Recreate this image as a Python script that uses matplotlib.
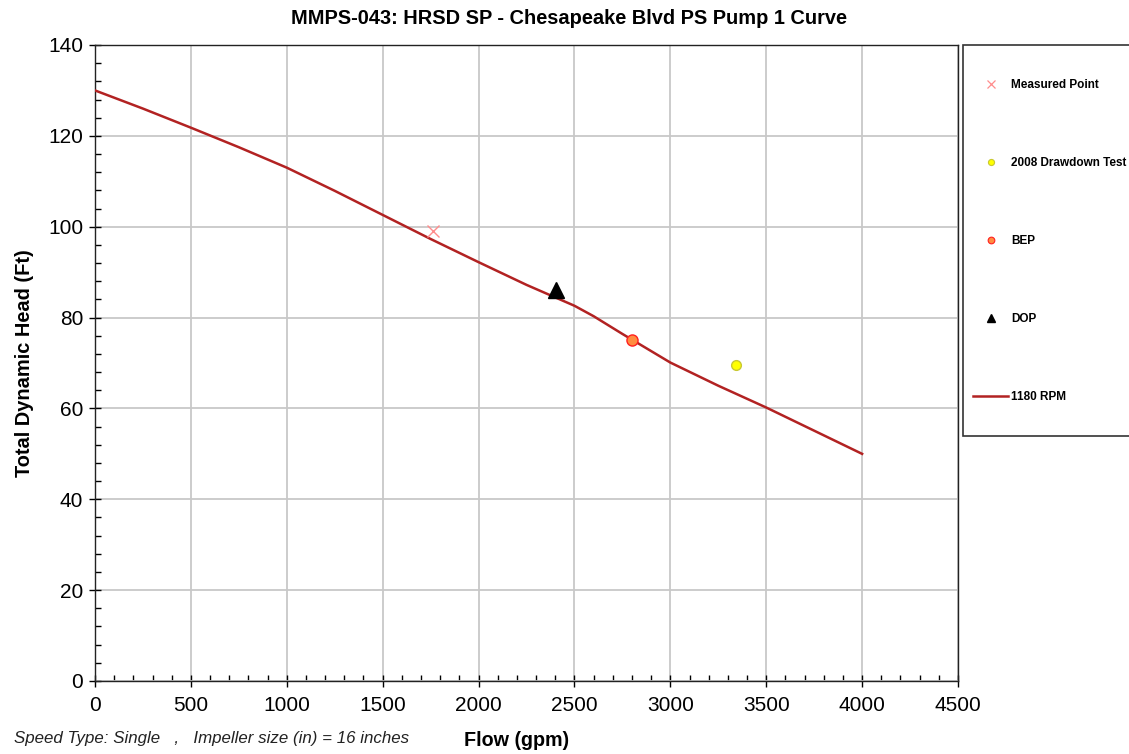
import matplotlib
matplotlib.use("Agg")
import matplotlib.pyplot as plt
from matplotlib.ticker import MultipleLocator
from matplotlib.lines import Line2D
from matplotlib.patches import Rectangle

plt.rcParams['font.family'] = ['Liberation Sans', 'DejaVu Sans']

# Pump curve (1180 RPM)
flow_curve = [0, 250, 500, 750, 1000, 1250, 1500, 1750, 2000, 2250, 2500, 2600, 2750, 3000, 3250, 3500, 3750, 4000]
head_curve = [130.0, 126.0, 121.8, 117.5, 113.0, 107.9, 102.6, 97.3, 92.2, 87.2, 82.6, 80.3, 76.4, 70.1, 65.0, 60.2, 55.1, 50.0]

measured_flow = [1760]
measured_head = [99.1]
drawdown_flow = [3345]
drawdown_head = [69.6]
bep_flow = [2800]
bep_head = [75.0]
dop_flow = [2405]
dop_head = [86.0]

legend_labels = ['Measured Point', '2008 Drawdown Test', 'BEP', 'DOP', '1180 RPM']

title = "MMPS-043: HRSD SP - Chesapeake Blvd PS Pump 1 Curve"
xlabel = "Flow (gpm)"
ylabel = "Total Dynamic Head (Ft)"
footnote = "Speed Type: Single   ,   Impeller size (in) = 16 inches"

W, H = 1129, 754
fig = plt.figure(figsize=(W / 100, H / 100), dpi=100)
ax = fig.add_axes([95 / W, 1 - 681 / H, (958 - 95) / W, (681 - 45) / H])

ax.grid(True, which='major', color='#c8c8c8', linewidth=1.3, zorder=0)
ax.set_axisbelow(True)

line_color = '#b22222'
ax.plot(flow_curve, head_curve, color=line_color, linewidth=1.8, zorder=3)
ax.plot(measured_flow, measured_head, linestyle='none', marker='x', markersize=8,
        markeredgewidth=1.0, color='#ff8c8c', zorder=4)
ax.plot(drawdown_flow, drawdown_head, linestyle='none', marker='o', markersize=7,
        markerfacecolor='#ffff00', markeredgecolor='#c8c832', markeredgewidth=1.0, zorder=4)
ax.plot(bep_flow, bep_head, linestyle='none', marker='o', markersize=8,
        markerfacecolor='#ff8c40', markeredgecolor='#ff2020', markeredgewidth=1.0, zorder=4)
ax.plot(dop_flow, dop_head, linestyle='none', marker='^', markersize=11.3,
        color='black', zorder=5)

ax.set_xlim(0, 4500)
ax.set_ylim(0, 140)
ax.xaxis.set_major_locator(MultipleLocator(500))
ax.xaxis.set_minor_locator(MultipleLocator(100))
ax.yaxis.set_major_locator(MultipleLocator(20))
ax.yaxis.set_minor_locator(MultipleLocator(4))
ax.tick_params(which='major', direction='inout', length=9, width=1.0, labelsize=15, pad=4)
ax.tick_params(axis='x', which='major', pad=6)
ax.tick_params(which='minor', direction='in', length=4.5, width=1.0)
for s in ax.spines.values():
    s.set_linewidth(1.0)
    s.set_color('#222222')

ax.set_ylabel(ylabel, fontsize=14.4, fontweight='bold', labelpad=10)
fig.text(517 / W, 1 - 740 / H, xlabel, ha='center', va='center', fontsize=14.2, fontweight='bold')
fig.text(569 / W, 1 - 19 / H, title, ha='center', va='center', fontsize=14.4, fontweight='bold')
fig.text(14 / W, 1 - 738 / H, footnote, ha='left', va='center', fontsize=12.2, style='italic', color='#222222')

# Legend box and entries (proxy handles)
fig.patches.append(Rectangle((963 / W, 1 - 436 / H), (W - 963) / W + 0.01, (436 - 45) / H,
                             transform=fig.transFigure, facecolor='white', edgecolor='#333333',
                             linewidth=1.2, zorder=1))
handles = [
    Line2D([], [], linestyle='none', marker='x', markersize=5.2, markeredgewidth=0.9, color='#ff8c8c'),
    Line2D([], [], linestyle='none', marker='o', markersize=4.4, markerfacecolor='#ffff00',
           markeredgecolor='#c8c832', markeredgewidth=0.8),
    Line2D([], [], linestyle='none', marker='o', markersize=4.8, markerfacecolor='#ff8c40',
           markeredgecolor='#ff2020', markeredgewidth=0.8),
    Line2D([], [], linestyle='none', marker='^', markersize=5.4, color='black'),
    Line2D([], [], color=line_color, linewidth=1.8),
]
leg = fig.legend(handles=handles, labels=legend_labels, loc='upper left',
                 bbox_to_anchor=(973 / W, 1 - 79 / H), borderaxespad=0, borderpad=0,
                 frameon=False, prop={'weight': 'bold', 'size': 8.5},
                 labelspacing=5.6, handlelength=2.97, handletextpad=0.25, numpoints=1)
leg.set_zorder(2)

fig.savefig('out.png', dpi=100)
